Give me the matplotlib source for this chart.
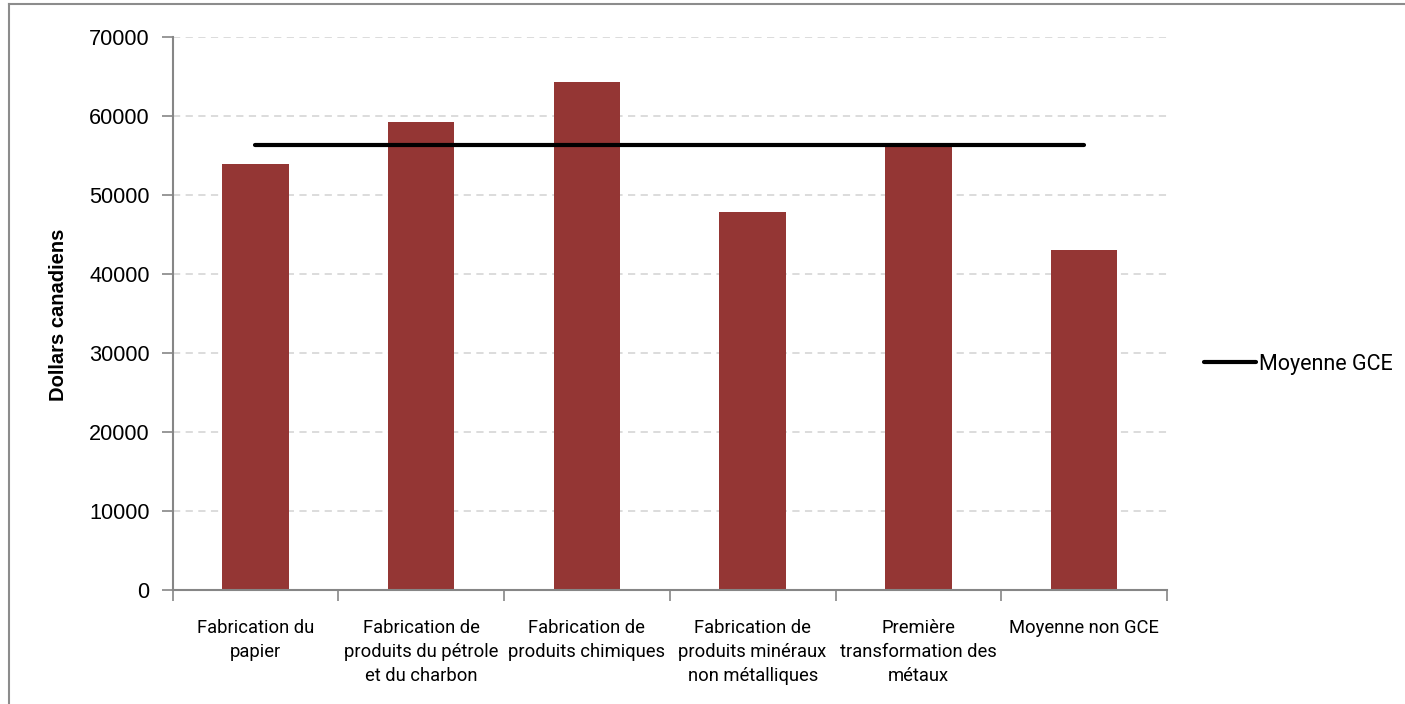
import matplotlib
matplotlib.use("Agg")
import matplotlib.pyplot as plt
from matplotlib.lines import Line2D
import numpy as np

categories = [
    "Fabrication du\npapier",
    "Fabrication de\nproduits du pétrole\net du charbon",
    "Fabrication de\nproduits chimiques",
    "Fabrication de\nproduits minéraux\nnon métalliques",
    "Première\ntransformation des\nmétaux",
    "Moyenne non GCE",
]
salaries = [53900, 59200, 64300, 47800, 56000, 43000]
gce_average = [56300] * len(categories)
y_ticks = [0, 10000, 20000, 30000, 40000, 50000, 60000, 70000]
y_label = "Dollars canadiens"
line_label = "Moyenne GCE"

BAR_COLOR = "#943634"
AXIS_GRAY = "#868686"
GRID_GRAY = "#d9d9d9"
NARROW = ["Roboto", "DejaVu Sans"]
REGULAR = ["Liberation Sans", "DejaVu Sans"]

W, H = 1405, 704
fig = plt.figure(figsize=(W / 100, H / 100), dpi=100)
ax = fig.add_axes([172.5 / W, 1 - 590.3 / H, (1167 - 172.5) / W, (590.3 - 36.6) / H])

x = np.arange(len(categories))
ax.bar(x, salaries, width=0.40, color=BAR_COLOR, zorder=2)
ax.plot(x, gce_average, color="black", linewidth=3.0, solid_capstyle="round",
        zorder=3, label=line_label)

ax.set_xlim(-0.5, len(categories) - 0.5)
ax.set_ylim(0, 70000)
ax.set_yticks(y_ticks)
ax.set_yticklabels([str(v) for v in y_ticks], family=REGULAR, fontsize=15.6)
ax.yaxis.grid(True, linestyle=(0, (4, 3)), color=GRID_GRAY, linewidth=1.3, zorder=0)
ax.set_axisbelow(True)

# category labels sit between boundary ticks
ax.set_xticks(x)
ax.set_xticklabels(categories, family=NARROW, fontsize=13.2, linespacing=1.42, va="top")
ax.tick_params(axis="x", length=0, pad=20.5)
ax.set_xticks(np.arange(-0.5, len(categories)), minor=True)
ax.tick_params(axis="x", which="minor", length=8, width=1.2, color=AXIS_GRAY, direction="out")
ax.tick_params(axis="y", length=8, width=1.2, color=AXIS_GRAY, direction="out", pad=8.5)

for side in ("top", "right"):
    ax.spines[side].set_visible(False)
for side in ("left", "bottom"):
    ax.spines[side].set_color(AXIS_GRAY)
    ax.spines[side].set_linewidth(1.5)

ax.set_ylabel(y_label, fontsize=14.5, fontweight="bold", family=REGULAR)
ax.yaxis.set_label_coords((67.5 - 172.5) / 994.5, 0.497)

leg = fig.legend(loc="center left", bbox_to_anchor=(1185 / W, 1 - 364.5 / H),
                 frameon=False, handlelength=2.4, handletextpad=0.15,
                 prop={"family": NARROW, "size": 15.5})

# chart area frame
frame_kw = dict(color="#8c8c8c", linewidth=1.5, transform=fig.transFigure)
fig.add_artist(Line2D([8.5 / W, 1.0], [1 - 3.7 / H, 1 - 3.7 / H], **frame_kw))
fig.add_artist(Line2D([8.5 / W, 8.5 / W], [0.0, 1 - 3.7 / H], **frame_kw))

fig.savefig("out.png", dpi=100, facecolor="white")
